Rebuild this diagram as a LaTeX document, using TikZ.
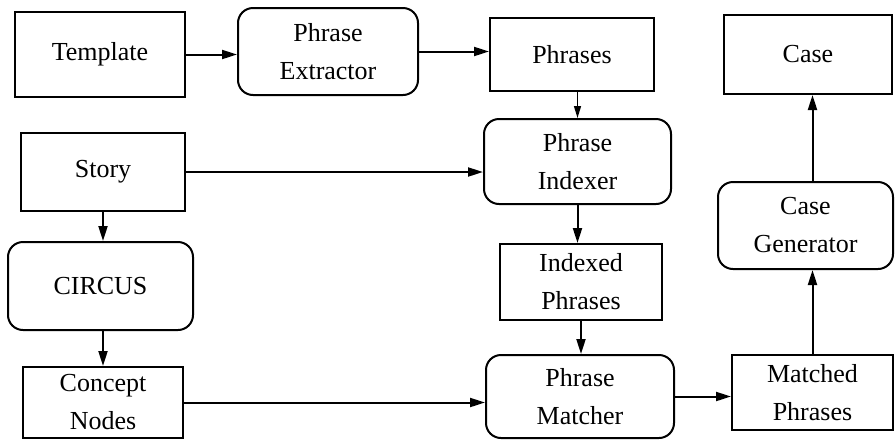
\documentclass[tikz,border=0pt]{standalone}
\usepackage{fontspec}
\setmainfont{Liberation Serif}
\usetikzlibrary{arrows.meta}
\begin{document}
\begin{tikzpicture}[x=1pt,y=-1pt,
  every node/.style={font=\fontsize{26}{38}\selectfont, align=center, inner sep=0pt},
  box/.style={draw, line width=2pt},
  proc/.style={draw, line width=2pt, rounded corners=15pt},
  flow/.style={line width=2pt, -{Triangle[length=15pt,width=9pt]}},
  thinflow/.style={line width=1.4pt, -{Triangle[length=12pt,width=7pt]}}]
\useasboundingbox (0,0) rectangle (895,440);

% top row
\node[box,  minimum width=170pt, minimum height=85pt] (tmpl) at (100,54.5) {Template};
\node[proc, minimum width=180pt, minimum height=87pt] (ext)  at (328,51.5) {Phrase\\Extractor};
\node[box,  minimum width=164pt, minimum height=73pt] (phr)  at (572,54.5) {Phrases};
\node[box,  minimum width=168pt, minimum height=79pt] (case) at (808,54.5) {Case};

% left column
\node[box,  minimum width=164pt, minimum height=78pt] (story) at (103,172) {Story};
\node[proc, minimum width=185pt, minimum height=88pt] (circ)  at (100.5,286) {CIRCUS};
\node[box,  minimum width=160pt, minimum height=71pt] (cn)    at (103,402.5) {Concept\\Nodes};

% middle column
\node[proc, minimum width=187pt, minimum height=85pt] (idx) at (577.5,161.5) {Phrase\\Indexer};
\node[box,  minimum width=162pt, minimum height=76pt] (ixd) at (581,282) {Indexed\\Phrases};
\node[proc, minimum width=188pt, minimum height=83pt] (mat) at (580,396.5) {Phrase\\Matcher};

% right column
\node[proc, minimum width=175pt, minimum height=87pt] (cg)  at (805.5,225.5) {Case\\Generator};
\node[box,  minimum width=161pt, minimum height=75pt] (mch) at (812.5,392.5) {Matched\\Phrases};

% connectors
\draw[flow] (tmpl.east) -- (tmpl.east -| ext.west);
\draw[flow] (ext.east) -- (ext.east -| phr.west);
\draw[thinflow] (idx.north |- phr.south) -- (idx.north);
\draw[flow] (story.east) -- (story.east -| idx.west);
\draw[flow] (story.south) -- (story.south |- circ.north);
\draw[flow] (cn.north |- circ.south) -- (cn.north);
\draw[flow] (idx.south) -- (idx.south |- ixd.north);
\draw[flow] (ixd.south) -- (ixd.south |- mat.north);
\draw[flow] (cn.east) -- (cn.east -| mat.west);
\draw[flow] (mat.east) -- (mat.east -| mch.west);
\draw[flow] (mch.north) -- (mch.north |- cg.south);
\draw[flow] (mch.north |- cg.north) -- (mch.north |- case.south);
\end{tikzpicture}
\end{document}
